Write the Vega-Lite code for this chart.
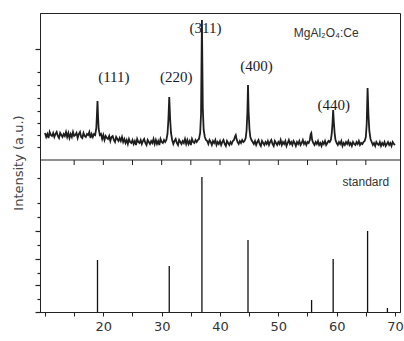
{
  "$schema": "https://vega.github.io/schema/vega-lite/v6.json",
  "width": 360,
  "height": 299,
  "autosize": "none",
  "padding": {"left": 40, "top": 13, "right": 4, "bottom": 29},
  "background": "white",
  "config": {"view": {"stroke": "#222", "strokeWidth": 1}},
  "datasets": {
    "xrd": [
      {"t":10.0,"i":179},{"t":10.2,"i":175},{"t":10.4,"i":178},{"t":10.6,"i":174},{"t":10.8,"i":180},{"t":11.0,"i":177},{"t":11.2,"i":176},{"t":11.4,"i":179},{"t":11.6,"i":175},{"t":11.8,"i":178},
      {"t":12.0,"i":180},{"t":12.2,"i":176},{"t":12.4,"i":174},{"t":12.6,"i":179},{"t":12.8,"i":177},{"t":13.0,"i":175},{"t":13.2,"i":178},{"t":13.4,"i":176},{"t":13.6,"i":180},{"t":13.8,"i":175},
      {"t":14.0,"i":179},{"t":14.2,"i":174},{"t":14.4,"i":178},{"t":14.6,"i":175},{"t":14.8,"i":180},{"t":15.0,"i":176},{"t":15.2,"i":177},{"t":15.4,"i":179},{"t":15.6,"i":174},{"t":15.8,"i":178},
      {"t":16.0,"i":180},{"t":16.2,"i":175},{"t":16.4,"i":174},{"t":16.6,"i":179},{"t":16.8,"i":176},{"t":17.0,"i":175},{"t":17.2,"i":178},{"t":17.4,"i":177},{"t":17.6,"i":180},{"t":17.8,"i":174},
      {"t":18.0,"i":178},{"t":18.2,"i":175},{"t":18.4,"i":178},
      {"t":18.6,"i":177},{"t":18.8,"i":184},{"t":18.9,"i":197},{"t":19.0,"i":211},{"t":19.1,"i":195},{"t":19.2,"i":183},{"t":19.4,"i":177},
      {"t":19.6,"i":178},{"t":19.8,"i":173},{"t":20.0,"i":177},{"t":20.2,"i":172},{"t":20.4,"i":176},{"t":20.6,"i":174},{"t":20.8,"i":173},{"t":21.0,"i":176},{"t":21.2,"i":171},{"t":21.4,"i":175},
      {"t":21.6,"i":176},{"t":21.8,"i":172},{"t":22.0,"i":170},{"t":22.2,"i":175},{"t":22.4,"i":173},{"t":22.6,"i":171},{"t":22.8,"i":174},{"t":23.0,"i":171},{"t":23.2,"i":175},{"t":23.4,"i":170},
      {"t":23.6,"i":173},{"t":23.8,"i":169},{"t":24.0,"i":172},{"t":24.2,"i":168},{"t":24.4,"i":173},{"t":24.6,"i":170},{"t":24.8,"i":169},
      {"t":25.0,"i":172},{"t":25.2,"i":168},{"t":25.4,"i":171},{"t":25.6,"i":167},{"t":25.8,"i":173},{"t":26.0,"i":170},{"t":26.2,"i":169},{"t":26.4,"i":172},{"t":26.6,"i":168},{"t":26.8,"i":171},
      {"t":27.0,"i":173},{"t":27.2,"i":169},{"t":27.4,"i":167},{"t":27.6,"i":172},{"t":27.8,"i":170},{"t":28.0,"i":168},{"t":28.2,"i":171},{"t":28.4,"i":169},{"t":28.6,"i":173},{"t":28.8,"i":168},
      {"t":29.0,"i":172},{"t":29.2,"i":168},{"t":29.4,"i":171},{"t":29.6,"i":167},{"t":29.8,"i":173},{"t":30.0,"i":170},{"t":30.2,"i":169},{"t":30.4,"i":172},{"t":30.6,"i":170},
      {"t":30.8,"i":172},{"t":31.0,"i":178},{"t":31.15,"i":192},{"t":31.3,"i":215},{"t":31.45,"i":193},{"t":31.6,"i":179},{"t":31.8,"i":172},
      {"t":32.0,"i":168},{"t":32.2,"i":171},{"t":32.4,"i":173},{"t":32.6,"i":169},{"t":32.8,"i":167},{"t":33.0,"i":172},{"t":33.2,"i":170},{"t":33.4,"i":168},{"t":33.6,"i":171},{"t":33.8,"i":169},
      {"t":34.0,"i":173},{"t":34.2,"i":168},{"t":34.4,"i":172},{"t":34.6,"i":168},{"t":34.8,"i":171},{"t":35.0,"i":167},{"t":35.2,"i":173},{"t":35.4,"i":170},{"t":35.6,"i":169},{"t":35.8,"i":172},
      {"t":36.0,"i":170},{"t":36.2,"i":172},
      {"t":36.4,"i":173},{"t":36.6,"i":179},{"t":36.75,"i":198},{"t":36.9,"i":292},{"t":37.05,"i":204},{"t":37.2,"i":182},{"t":37.4,"i":175},{"t":37.6,"i":172},
      {"t":37.8,"i":171},{"t":38.0,"i":168},{"t":38.2,"i":172},{"t":38.4,"i":170},{"t":38.6,"i":167},{"t":38.8,"i":171},{"t":39.0,"i":169},{"t":39.2,"i":172},{"t":39.4,"i":167},{"t":39.6,"i":170},
      {"t":39.8,"i":168},{"t":40.0,"i":171},{"t":40.2,"i":167},{"t":40.4,"i":170},{"t":40.6,"i":172},{"t":40.8,"i":168},{"t":41.0,"i":166},{"t":41.2,"i":171},{"t":41.4,"i":169},{"t":41.6,"i":167},
      {"t":41.8,"i":170},{"t":42.0,"i":168},{"t":42.2,"i":171},{"t":42.4,"i":172},{"t":42.6,"i":176},{"t":42.7,"i":177},{"t":42.8,"i":174},{"t":43.0,"i":170},{"t":43.2,"i":168},{"t":43.4,"i":171},
      {"t":43.6,"i":169},{"t":43.8,"i":172},{"t":44.0,"i":170},{"t":44.2,"i":171},
      {"t":44.4,"i":174},{"t":44.55,"i":181},{"t":44.7,"i":200},{"t":44.8,"i":227},{"t":44.9,"i":201},{"t":45.05,"i":183},{"t":45.2,"i":175},{"t":45.4,"i":172},
      {"t":45.6,"i":170},{"t":45.8,"i":168},{"t":46.0,"i":171},{"t":46.2,"i":167},{"t":46.4,"i":170},{"t":46.6,"i":172},{"t":46.8,"i":168},{"t":47.0,"i":166},{"t":47.2,"i":171},{"t":47.4,"i":169},
      {"t":47.6,"i":167},{"t":47.8,"i":170},{"t":48.0,"i":168},{"t":48.2,"i":171},{"t":48.4,"i":167},{"t":48.6,"i":170},{"t":48.8,"i":172},{"t":49.0,"i":168},{"t":49.2,"i":166},{"t":49.4,"i":171},
      {"t":49.6,"i":169},{"t":49.8,"i":167},{"t":50.0,"i":170},{"t":50.2,"i":168},{"t":50.4,"i":172},{"t":50.6,"i":167},{"t":50.8,"i":170},{"t":51.0,"i":168},{"t":51.2,"i":171},{"t":51.4,"i":166},
      {"t":51.6,"i":169},{"t":51.8,"i":172},{"t":52.0,"i":168},{"t":52.2,"i":170},{"t":52.4,"i":167},{"t":52.6,"i":171},{"t":52.8,"i":169},{"t":53.0,"i":166},{"t":53.2,"i":170},{"t":53.4,"i":168},
      {"t":53.6,"i":171},{"t":53.8,"i":167},{"t":54.0,"i":169},{"t":54.2,"i":172},{"t":54.4,"i":168},{"t":54.6,"i":170},{"t":54.8,"i":167},{"t":55.0,"i":170},{"t":55.2,"i":169},
      {"t":55.4,"i":172},{"t":55.55,"i":178},{"t":55.65,"i":179},{"t":55.8,"i":172},{"t":56.0,"i":169},
      {"t":56.2,"i":167},{"t":56.4,"i":170},{"t":56.6,"i":168},{"t":56.8,"i":171},{"t":57.0,"i":167},{"t":57.2,"i":169},{"t":57.4,"i":166},{"t":57.6,"i":170},{"t":57.8,"i":168},{"t":58.0,"i":171},
      {"t":58.2,"i":167},{"t":58.4,"i":169},{"t":58.6,"i":171},{"t":58.8,"i":170},
      {"t":59.0,"i":172},{"t":59.15,"i":178},{"t":59.3,"i":190},{"t":59.4,"i":202},{"t":59.5,"i":191},{"t":59.65,"i":179},{"t":59.8,"i":172},
      {"t":60.0,"i":169},{"t":60.2,"i":167},{"t":60.4,"i":170},{"t":60.6,"i":168},{"t":60.8,"i":171},{"t":61.0,"i":166},{"t":61.2,"i":169},{"t":61.4,"i":167},{"t":61.6,"i":170},{"t":61.8,"i":168},
      {"t":62.0,"i":171},{"t":62.2,"i":167},{"t":62.4,"i":169},{"t":62.6,"i":166},{"t":62.8,"i":170},{"t":63.0,"i":168},{"t":63.2,"i":167},{"t":63.4,"i":170},{"t":63.6,"i":168},{"t":63.8,"i":171},
      {"t":64.0,"i":167},{"t":64.2,"i":169},{"t":64.4,"i":168},{"t":64.6,"i":170},{"t":64.8,"i":171},
      {"t":65.0,"i":175},{"t":65.15,"i":188},{"t":65.3,"i":224},{"t":65.45,"i":197},{"t":65.6,"i":181},{"t":65.8,"i":173},
      {"t":66.0,"i":170},{"t":66.2,"i":167},{"t":66.4,"i":169},{"t":66.6,"i":166},{"t":66.8,"i":170},{"t":67.0,"i":168},{"t":67.2,"i":167},{"t":67.4,"i":170},{"t":67.6,"i":166},{"t":67.8,"i":169},
      {"t":68.0,"i":167},{"t":68.2,"i":170},{"t":68.4,"i":166},{"t":68.6,"i":168},{"t":68.8,"i":170},{"t":69.0,"i":167},{"t":69.2,"i":169},{"t":69.4,"i":166},{"t":69.6,"i":170},{"t":69.8,"i":168},
      {"t":70.0,"i":167}
    ],
    "std": [
      {"t":19.0,"h":52},{"t":31.3,"h":46},{"t":36.9,"h":135},{"t":44.8,"h":72},
      {"t":55.7,"h":12},{"t":59.4,"h":53},{"t":65.3,"h":81},{"t":68.7,"h":4}
    ],
    "sepTicks": [
      {"t":15,"a":152,"b":147},{"t":20,"a":152,"b":147},{"t":25,"a":152,"b":147},{"t":30,"a":152,"b":147},{"t":35,"a":152,"b":147},{"t":40,"a":152,"b":147},
      {"t":45,"a":152,"b":147},{"t":50,"a":152,"b":147},{"t":55,"a":152,"b":147},{"t":60,"a":152,"b":147},{"t":65,"a":152,"b":147}
    ],
    "peaks": [
      {"t":21.8,"y":235,"label":"(111)"},
      {"t":32.5,"y":235,"label":"(220)"},
      {"t":37.5,"y":284,"label":"(311)"},
      {"t":46.25,"y":246,"label":"(400)"},
      {"t":59.5,"y":207,"label":"(440)"}
    ],
    "notes": [
      {"t":58.2,"y":279,"label":"MgAl₂O₄:Ce"},
      {"t":65.0,"y":130,"label":"standard"}
    ]
  },
  "layer": [
    {
      "data": {"name": "xrd"},
      "mark": {"type": "line", "color": "#1e1e1e", "strokeWidth": 1.8, "clip": true},
      "encoding": {
        "x": {
          "field": "t", "type": "quantitative",
          "scale": {"domain": [10, 70], "nice": false, "zero": false},
          "axis": {
            "title": null,
            "values": [10,15,20,25,30,35,40,45,50,55,60,65,70],
            "tickCount": 100,
            "labelExpr": "datum.value % 10 == 0 && datum.value > 10 ? format(datum.value, 'd') : ''",
            "grid": false, "tickSize": 4, "tickColor": "#222", "domainColor": "#222",
            "labelFont": "DejaVu Sans", "labelFontSize": 13, "labelColor": "#333",
            "labelPadding": 4, "labelFlush": false, "labelOverlap": false
          }
        },
        "y": {
          "field": "i", "type": "quantitative",
          "scale": {"domain": [0, 299], "nice": false, "zero": false},
          "axis": {
            "title": "Intensity (a.u.)",
            "titleFont": "DejaVu Sans", "titleFontSize": 13, "titleFontWeight": "normal", "titleColor": "#444",
            "titlePadding": 9,
            "values": [0,13,27,39,53,67,81,95,109,134,165,177,189,201,214,227,240,263],
            "tickCount": 100,
            "labels": true, "labelExpr": "''", "labelOverlap": false, "labelPadding": 0, "grid": false,
            "tickSize": {"condition": {"test": "indexof([263,81,53,27,0], datum.value) >= 0", "value": 5}, "value": 3},
            "tickWidth": 1.2,
            "tickColor": "#222", "domainColor": "#222"
          }
        }
      }
    },
    {
      "data": {"name": "std"},
      "mark": {"type": "bar", "color": "#111", "width": 1.3},
      "encoding": {
        "x": {"field": "t", "type": "quantitative"},
        "y": {"field": "h", "type": "quantitative"}
      }
    },
    {
      "data": {"values": [{"s": 152}]},
      "mark": {"type": "rule", "color": "#222", "strokeWidth": 1.2},
      "encoding": {"y": {"field": "s", "type": "quantitative"}}
    },
    {
      "data": {"name": "sepTicks"},
      "mark": {"type": "rule", "color": "#222", "strokeWidth": 1},
      "encoding": {
        "x": {"field": "t", "type": "quantitative"},
        "y": {"field": "a", "type": "quantitative"},
        "y2": {"field": "b"}
      }
    },
    {
      "data": {"name": "peaks"},
      "mark": {"type": "text", "font": "Liberation Serif", "fontSize": 15, "color": "#1a1a2a", "baseline": "middle", "align": "center"},
      "encoding": {
        "x": {"field": "t", "type": "quantitative"},
        "y": {"field": "y", "type": "quantitative"},
        "text": {"field": "label"}
      }
    },
    {
      "data": {"name": "notes"},
      "mark": {"type": "text", "font": "Liberation Sans", "fontSize": 12, "color": "#333", "baseline": "middle", "align": "center"},
      "encoding": {
        "x": {"field": "t", "type": "quantitative"},
        "y": {"field": "y", "type": "quantitative"},
        "text": {"field": "label"}
      }
    }
  ]
}
